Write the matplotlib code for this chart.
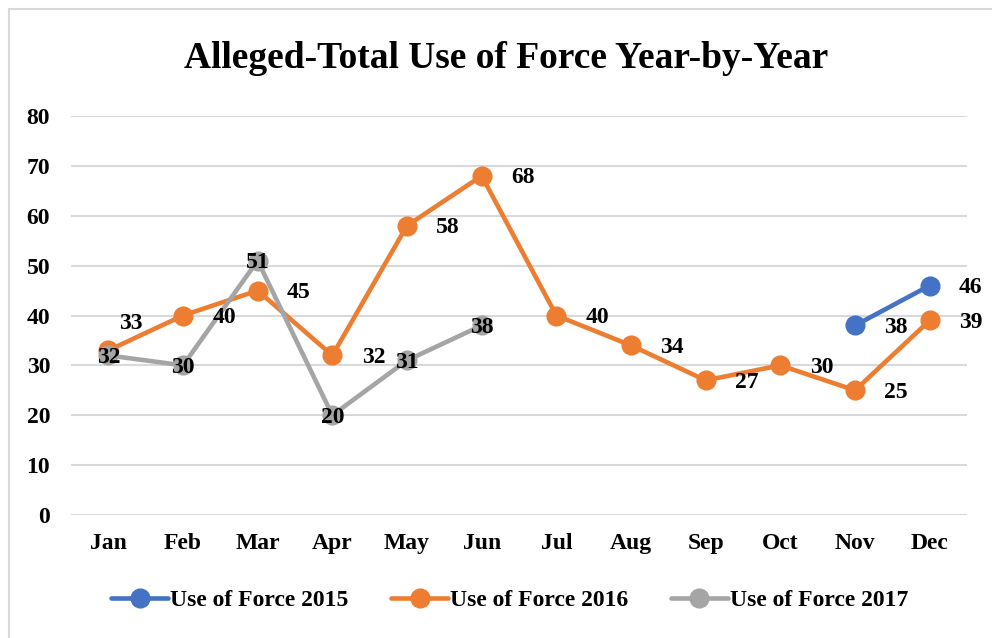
import numpy as np
import matplotlib.pyplot as plt
from matplotlib.patches import Rectangle

# Data -----------------------------------------------------------------------
months = ["Jan", "Feb", "Mar", "Apr", "May", "Jun",
          "Jul", "Aug", "Sep", "Oct", "Nov", "Dec"]
force_2015 = [None] * 10 + [38, 46]
force_2016 = [33, 40, 45, 32, 58, 68, 40, 34, 27, 30, 25, 39]
force_2017 = [32, 30, 51, 20, 31, 38] + [None] * 6

series_names = ["Use of Force 2015", "Use of Force 2016", "Use of Force 2017"]
series_colors = ["#4472C4", "#ED7D31", "#A5A5A5"]

FONT = "Liberation Serif"
FS = 17
plt.rcParams["font.family"] = FONT
plt.rcParams["font.weight"] = "bold"

fig = plt.figure(figsize=(9.92, 6.38), dpi=100)
ax = fig.add_axes([71 / 992, 123 / 638, 896 / 992, 399 / 638])

# chart border (light gray, left/top visible) -------------------------------
fig.patches.append(Rectangle((9 / 992, -0.01), 1.0, (638 - 9) / 638 + 0.01,
                             transform=fig.transFigure, fill=False,
                             edgecolor="#D9D9D9", linewidth=1.5))

x = np.arange(len(months))


def to_arr(vals):
    return np.array([np.nan if v is None else v for v in vals], dtype=float)


y15, y16, y17 = to_arr(force_2015), to_arr(force_2016), to_arr(force_2017)

for y, name, col, z in zip([y15, y16, y17], series_names, series_colors, [4, 3, 5]):
    ax.plot(x, y, color=col, linewidth=3.3, marker="o", markersize=13.5,
            label=name, zorder=z, solid_capstyle="round")

# data labels ----------------------------------------------------------------
lbl = dict(fontsize=FS, fontweight="bold", color="black", zorder=6)
for xi, v in zip(x, force_2016):
    off = (22, 27) if xi == 0 else (41, -2)
    ax.annotate(str(v), (xi, v), xytext=off, textcoords="offset pixels",
                ha="center", va="center", **lbl)
for xi, v in zip(x, force_2015):
    if v is not None:
        ax.annotate(str(v), (xi, v), xytext=(41, -2), textcoords="offset pixels",
                    ha="center", va="center", **lbl)
for xi, v in zip(x, force_2017):
    if v is not None:
        ax.annotate(str(v), (xi, v), xytext=(0, -2), textcoords="offset pixels",
                    ha="center", va="center", **lbl)

# axes -----------------------------------------------------------------------
ax.set_xlim(-0.5, 11.5)
ax.set_ylim(0, 80)
ax.set_yticks(range(0, 81, 10))
ax.set_xticks(x)
ax.set_xticklabels(months)
ax.grid(axis="y", color="#D9D9D9", linewidth=1.5)
ax.set_axisbelow(True)
for s in ax.spines.values():
    s.set_visible(False)
ax.tick_params(length=0, labelsize=FS)
ax.tick_params(axis="x", pad=13)
ax.tick_params(axis="y", pad=15)
for t in ax.get_xticklabels() + ax.get_yticklabels():
    t.set_fontweight("bold")

fig.text(506 / 992, 1 - 58 / 638, "Alleged-Total Use of Force Year-by-Year",
         ha="center", va="center", fontsize=27, fontweight="bold")

fig.legend(loc="center", bbox_to_anchor=(510 / 992, 1 - 600 / 638), ncol=3,
           frameon=False, prop={"family": FONT, "weight": "bold", "size": FS},
           handlelength=2.4, columnspacing=1.8, handletextpad=0.1)

fig.savefig("out.png", dpi=100, facecolor="white")
